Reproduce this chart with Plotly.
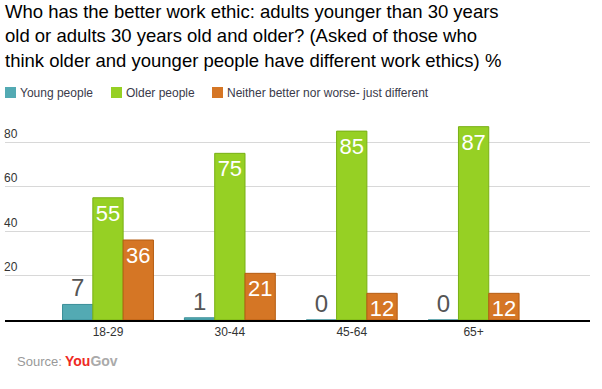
import plotly.graph_objects as go

categories = ["18-29", "30-44", "45-64", "65+"]
young = [7, 1, 0, 0]
older = [55, 75, 85, 87]
neither = [36, 21, 12, 12]
series_names = ["Young people", "Older people", "Neither better nor worse- just different"]
series_colors = ["#53aab3", "#96d024", "#d57625"]
series_borders = ["#3b8f98", "#78b014", "#b55c12"]
y_ticks = [20, 40, 60, 80]
title_lines = [
    "Who has the better work ethic: adults younger than 30 years",
    "old or adults 30 years old and older? (Asked of those who",
    "think older and younger people have different work ethics) %",
]

FONT = "Liberation Sans, Arial, sans-serif"

# plot area in pixels
L, R, T, B = 5, 590, 120, 320
def px_x(x):
    return (x - L) / (R - L)
def px_y(y):
    return (B - y) / (B - T)

fig = go.Figure()
fig.add_trace(go.Bar(
    name=series_names[0], x=categories, y=young,
    marker=dict(color=series_colors[0], line=dict(color=series_borders[0], width=1)),
    text=young, textposition="outside", cliponaxis=False, textangle=0,
    textfont=dict(family=FONT, size=24, color="#555555"),
    constraintext="none",
))
fig.add_trace(go.Bar(
    name=series_names[1], x=categories, y=older,
    marker=dict(color=series_colors[1], line=dict(color=series_borders[1], width=1)),
    text=older, textposition="inside", insidetextanchor="end", textangle=0,
    textfont=dict(family=FONT, size=22, color="#ffffff"),
    constraintext="none",
))
fig.add_trace(go.Bar(
    name=series_names[2], x=categories, y=neither,
    marker=dict(color=series_colors[2], line=dict(color=series_borders[2], width=1)),
    text=neither, textposition="inside", insidetextanchor="end", textangle=0,
    textfont=dict(family=FONT, size=22, color="#ffffff"),
    constraintext="none",
))

fig.update_layout(
    width=602, height=389,
    margin=dict(l=L, r=602 - R, t=T, b=389 - B, autoexpand=False),
    paper_bgcolor="white", plot_bgcolor="white",
    barmode="group", bargap=0.254, bargroupgap=0,
    font=dict(family=FONT, size=12, color="#333333"),
    showlegend=False,
)

fig.update_xaxes(
    type="category", range=[-0.845, 3.955],
    showline=True, linecolor="#000000", linewidth=1.5,
    showgrid=False, ticks="", tickfont=dict(family=FONT, size=12, color="#333333"),
    fixedrange=True,
)
fig.update_yaxes(
    range=[0, 90], tickvals=y_ticks, ticklabelposition="inside top",
    ticklabelstandoff=-4,
    showgrid=True, gridcolor="#d8d8d8", gridwidth=1,
    zeroline=False, showline=False, ticks="",
    tickfont=dict(family=FONT, size=12, color="#333333"),
    fixedrange=True,
)

# title lines
for i, line in enumerate(title_lines):
    fig.add_annotation(
        text=line, x=px_x(3), xref="paper", xanchor="left",
        y=px_y(11 + 24.7 * i), yref="paper", yanchor="middle", showarrow=False,
        font=dict(family=FONT, size=18.5, color="#000000"),
    )

# legend
sq_x = [5, 111, 212]
for name, col, bcol, sx in zip(series_names, series_colors, series_borders, sq_x):
    fig.add_shape(
        type="rect", xref="paper", yref="paper",
        x0=px_x(sx), x1=px_x(sx + 11), y0=px_y(98), y1=px_y(87),
        fillcolor=col, line=dict(width=0),
    )
    fig.add_annotation(
        text=name, x=px_x(sx + 13), xref="paper", xanchor="left",
        y=px_y(92.5), yref="paper", yanchor="middle", showarrow=False,
        font=dict(family=FONT, size=12, color="#3a3a4a"),
    )

fig.add_annotation(
    text="Source:", x=px_x(15), xref="paper", xanchor="left",
    y=px_y(361), yref="paper", yanchor="middle", showarrow=False,
    font=dict(family=FONT, size=13, color="#999999"),
)
fig.add_annotation(
    text="<b><span style='color:#ee2a24'>You</span><span style='color:#aaaaaa'>Gov</span></b>",
    x=px_x(63), xref="paper", xanchor="left",
    y=px_y(361), yref="paper", yanchor="middle", showarrow=False,
    font=dict(family=FONT, size=14, color="#aaaaaa"),
)

fig.write_html(
    "out.html",
    config={"displayModeBar": False, "staticPlot": True},
    post_script="document.body.style.margin='0';document.body.style.overflow='hidden';",
)
